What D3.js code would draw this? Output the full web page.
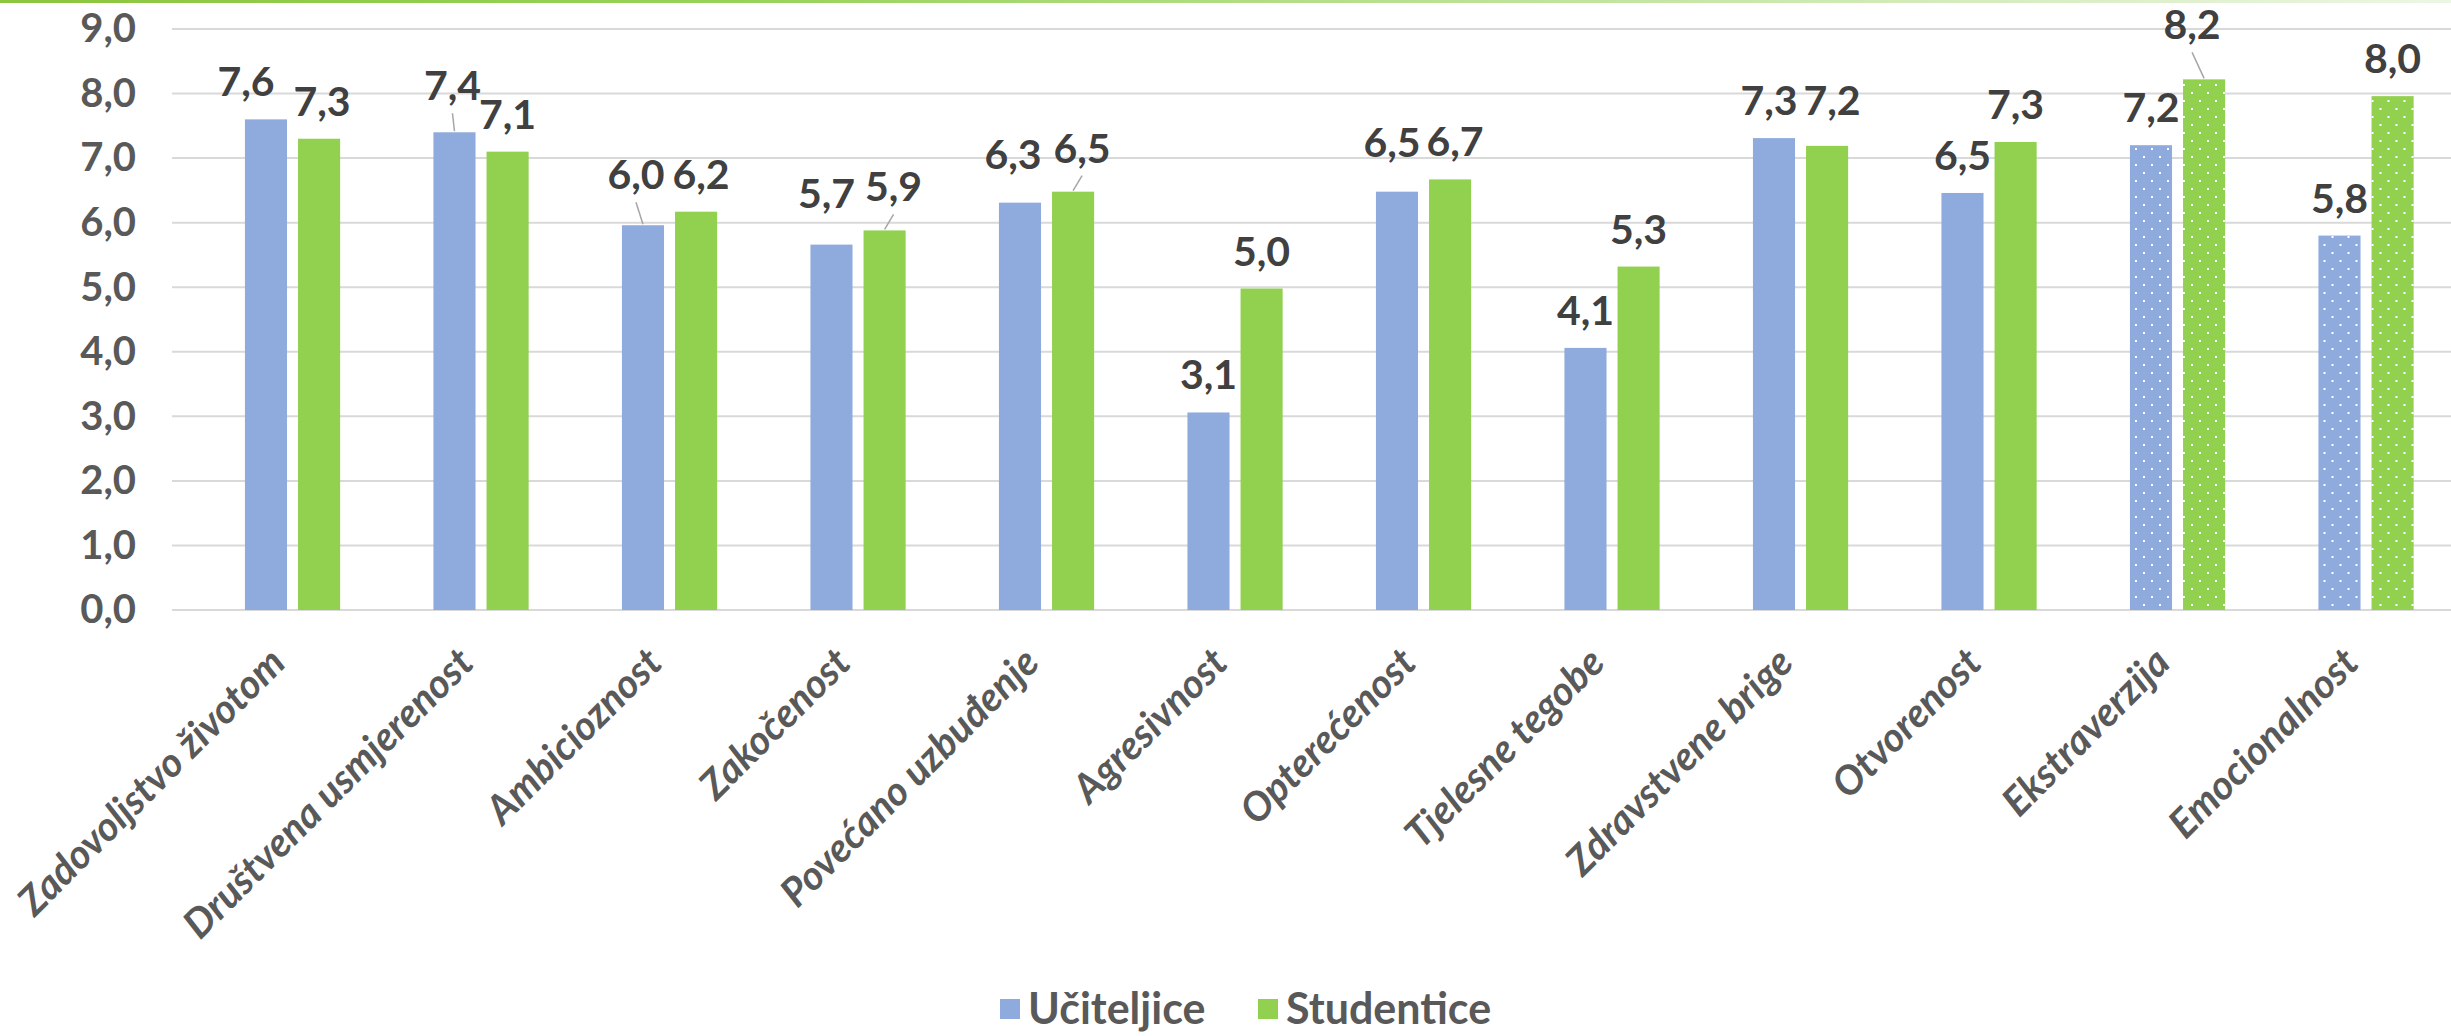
<!DOCTYPE html>
<html>
<head>
<meta charset="utf-8">
<script src="https://cdn.jsdelivr.net/npm/d3@7/dist/d3.min.js"></script>
<style>
  body { margin: 0; background: #fff; }
  svg { display: block; font-family: Lato, "Open Sans", sans-serif; }
</style>
</head>
<body>
<div class="holder"></div>
<script>
var categories = [
  "Zadovoljstvo životom", "Društvena usmjerenost", "Ambicioznost", "Zakočenost",
  "Povećano uzbuđenje", "Agresivnost", "Opterećenost", "Tjelesne tegobe",
  "Zdravstvene brige", "Otvorenost", "Ekstraverzija", "Emocionalnost"
];
var seriesNames = ["Učiteljice", "Studentice"];
var ucitelice = [7.6, 7.4, 5.96, 5.66, 6.31, 3.06, 6.48, 4.06, 7.31, 6.46, 7.2, 5.8];
var studentice = [7.3, 7.1, 6.17, 5.88, 6.48, 4.98, 6.67, 5.32, 7.19, 7.25, 8.22, 7.96];
var dottedCategories = ["Ekstraverzija", "Emocionalnost"];
var yTicks = [0, 1, 2, 3, 4, 5, 6, 7, 8, 9];

// value labels that were dragged off their default spot in the original, [dx, dy]
var nudgeU = [[-20, 0], [-2, -9], [-7, -13], [-5, -14], [-7, -11], [0, 0], [-5, -12], [0, 0], [-5, 0], [0, 0], [0, 0], [0, 0]];
var nudgeS = [[3, 0], [0, 0], [5, 0], [9, -6], [9, -6], [0, 0], [5, 0], [0, 0], [5, -8], [0, 0], [-12, -17], [0, 0]];
var leadersU = [1, 2];
var leadersS = [3, 4, 10];

var width = 2451,
  height = 1036;
var colors = ["#8faadc", "#92d050"];

var fmt = d3.formatLocale({ decimal: ",", thousands: ".", grouping: [3], currency: ["", ""] }).format(".1f");

var svg = d3
  .select(".holder")
  .append("svg")
  .attr("width", width)
  .attr("height", height);

var defs = svg.append("defs");

// thin green line along the top edge
var grad = defs.append("linearGradient").attr("id", "topline");
grad.append("stop").attr("offset", "0").attr("stop-color", "#8cc63f");
grad.append("stop").attr("offset", "0.3").attr("stop-color", "#98d25a");
grad.append("stop").attr("offset", "1").attr("stop-color", "#edf6e4");
svg.append("rect").attr("x", 0).attr("y", 0).attr("width", width).attr("height", 3).attr("fill", "url(#topline)");

// dotted fills for the last two categories
colors.forEach(function(c, i) {
  var p = defs
    .append("pattern")
    .attr("id", "dots" + i)
    .attr("patternUnits", "userSpaceOnUse")
    .attr("width", 16)
    .attr("height", 16);
  p.append("rect").attr("width", 16).attr("height", 16).attr("fill", c);
  p.append("rect").attr("x", 4).attr("y", 4).attr("width", 2).attr("height", 2).attr("fill", "#fff");
  p.append("rect").attr("x", 12).attr("y", 12).attr("width", 2).attr("height", 2).attr("fill", "#fff");
});

var x0 = d3.scaleBand().domain(categories).range([198, 2460]);
var bw = x0.bandwidth();
var x1 = d3
  .scaleBand()
  .domain(seriesNames)
  .range([bw * 0.249, bw * 0.754])
  .paddingInner(0.2075);

var y = d3.scaleLinear().domain([0, 9]).range([610, 29]);

// gridlines
svg
  .append("g")
  .selectAll("line")
  .data(yTicks)
  .enter()
  .append("line")
  .attr("x1", 172)
  .attr("x2", width)
  .attr("y1", function(d) { return y(d); })
  .attr("y2", function(d) { return y(d); })
  .attr("stroke", "#d9d9d9")
  .attr("stroke-width", 2);

// y axis labels
var yAxis = d3.axisLeft(y).tickValues(yTicks).tickFormat(fmt).tickSize(0).tickPadding(0);
var yAxisGroup = svg
  .append("g")
  .attr("transform", "translate(136,0)")
  .call(yAxis);
yAxisGroup.select(".domain").remove();
yAxisGroup
  .selectAll("text")
  .attr("fill", "#595959")
  .attr("font-size", 40)
  .attr("font-weight", 700)
  .attr("font-family", "Lato, sans-serif");

var rows = categories.map(function(c, i) {
  return { cat: c, i: i, values: [ucitelice[i], studentice[i]] };
});

var groups = svg
  .append("g")
  .selectAll("g")
  .data(rows)
  .enter()
  .append("g")
  .attr("transform", function(d) { return "translate(" + x0(d.cat) + ",0)"; });

function items(d) {
  return d.values.map(function(v, k) {
    var nudge = k === 0 ? nudgeU[d.i] : nudgeS[d.i];
    var lead = (k === 0 ? leadersU : leadersS).indexOf(d.i) >= 0;
    return { cat: d.cat, i: d.i, k: k, v: v, dx: nudge[0], dy: nudge[1], lead: lead };
  });
}

groups
  .selectAll("rect")
  .data(items)
  .enter()
  .append("rect")
  .attr("x", function(d) { return x1(seriesNames[d.k]); })
  .attr("y", function(d) { return y(d.v); })
  .attr("width", x1.bandwidth())
  .attr("height", function(d) { return y(0) - y(d.v); })
  .attr("fill", function(d) {
    return dottedCategories.indexOf(d.cat) >= 0 ? "url(#dots" + d.k + ")" : colors[d.k];
  });

function barMid(d) {
  return x1(seriesNames[d.k]) + x1.bandwidth() / 2;
}

// leader lines
groups
  .selectAll("line")
  .data(function(d) { return items(d).filter(function(e) { return e.lead; }); })
  .enter()
  .append("line")
  .attr("x1", function(d) { return barMid(d) + d.dx; })
  .attr("y1", function(d) { return y(d.v) - 23 + d.dy + 13; })
  .attr("x2", function(d) { return barMid(d); })
  .attr("y2", function(d) { return y(d.v) - 1; })
  .attr("stroke", "#a6a6a6")
  .attr("stroke-width", 1.5);

// value labels
groups
  .selectAll("text")
  .data(items)
  .enter()
  .append("text")
  .attr("x", function(d) { return barMid(d) + d.dx; })
  .attr("y", function(d) { return y(d.v) - 23 + d.dy; })
  .attr("text-anchor", "middle")
  .attr("fill", "#404040")
  .attr("font-size", 41)
  .attr("font-weight", 700)
  .text(function(d) { return fmt(d.v); });

// category labels, rotated
svg
  .append("g")
  .selectAll("text")
  .data(categories)
  .enter()
  .append("text")
  .attr("transform", function(d) {
    return "translate(" + (x0(d) + bw / 2 - 25) + ",645) rotate(-45)";
  })
  .attr("text-anchor", "end")
  .attr("dy", "0.71em")
  .attr("fill", "#595959")
  .attr("font-size", 40)
  .attr("font-weight", 700)
  .attr("font-style", "italic")
  .text(function(d) { return d; });

// legend
var legendX = [1000, 1258];
var legend = svg
  .append("g")
  .selectAll("g")
  .data(seriesNames)
  .enter()
  .append("g")
  .attr("transform", function(d, i) { return "translate(" + legendX[i] + ",999)"; });
legend
  .append("rect")
  .attr("width", 20)
  .attr("height", 20)
  .attr("fill", function(d, i) { return colors[i]; });
legend
  .append("text")
  .attr("x", 28)
  .attr("y", 25)
  .attr("fill", "#595959")
  .attr("font-size", 43)
  .attr("font-weight", 700)
  .text(function(d) { return d; });
</script>
</body>
</html>
